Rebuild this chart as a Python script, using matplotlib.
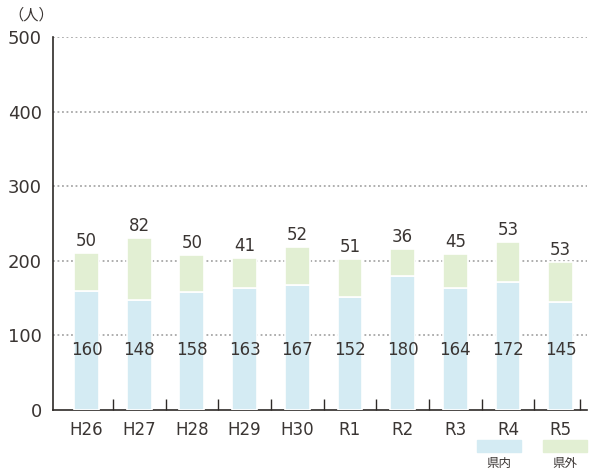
import numpy as np
import matplotlib
matplotlib.use('Agg')
from matplotlib import pyplot as plt
from matplotlib.patches import Rectangle

plt.rcParams['font.family'] = ['DejaVu Sans', 'Noto Sans CJK JP']

years    = ['H26', 'H27', 'H28', 'H29', 'H30', 'R1', 'R2', 'R3', 'R4', 'R5']
inside   = [160, 148, 158, 163, 167, 152, 180, 164, 172, 145]
outside  = [50, 82, 50, 41, 52, 51, 36, 45, 53, 53]
yticks   = [0, 100, 200, 300, 400, 500]

C_IN    = '#d4ebf3'
C_OUT   = '#e2efd3'
C_TEXT  = '#3a3533'
C_AXIS  = '#2e2a28'
JP      = ['Noto Sans CJK JP', 'DejaVu Sans']

fig = plt.figure(figsize=(5.9, 4.7), dpi=100)
ax = fig.add_axes([53/590, 60/470, (587-53)/590, 373/470])

x = np.arange(len(years))
ax.bar(x, inside, width=0.47, color=C_IN, edgecolor='white', linewidth=1.2, zorder=3)
ax.bar(x, outside, width=0.47, bottom=inside, color=C_OUT, edgecolor='white',
       linewidth=1.2, zorder=3)

# value labels
for xi, a, b in zip(x, inside, outside):
    ax.text(xi, 80, str(a), ha='center', va='center', fontsize=12, color=C_TEXT, zorder=4)
    ax.text(xi, a + b + 4, str(b), ha='center', va='bottom',
            fontsize=12, color=C_TEXT, zorder=4)

ax.set_xlim(-0.636, 9.5)
ax.set_ylim(0, 500)
ax.set_yticks(yticks)
ax.set_yticklabels([str(v) for v in yticks], fontsize=13, color=C_TEXT)
ax.tick_params(axis='y', length=0, pad=8)

ax.set_xticks(x)
ax.set_xticklabels(years, fontsize=12, color=C_TEXT)
ax.tick_params(axis='x', which='major', length=0, pad=8)
ax.set_xticks(np.append(x[:-1] + 0.5, 9.36), minor=True)
ax.tick_params(axis='x', which='minor', direction='in', length=8, width=1, color=C_AXIS)

for v in yticks[1:]:
    ax.axhline(v, color='#a8a8a8', linestyle=(0, (1, 1.5)), linewidth=1.3, zorder=1)

for s in ['top', 'right']:
    ax.spines[s].set_visible(False)
for s in ['left', 'bottom']:
    ax.spines[s].set_color(C_AXIS)
    ax.spines[s].set_linewidth(1.2)

fig.text(31/590, 1 - 15/470, '（人）', ha='center', va='center', fontsize=11,
         color=C_TEXT, family=JP)

# legend
fig.patches.append(Rectangle((477/590, 1 - 452/470), 44/590, 12/470,
                             transform=fig.transFigure, color=C_IN))
fig.patches.append(Rectangle((543/590, 1 - 452/470), 44/590, 12/470,
                             transform=fig.transFigure, color=C_OUT))
fig.text(499/590, 1 - 463/470, '県内', ha='center', va='center', fontsize=9,
         color=C_TEXT, family=JP)
fig.text(565/590, 1 - 463/470, '県外', ha='center', va='center', fontsize=9,
         color=C_TEXT, family=JP)

fig.savefig('out.png', dpi=100)
